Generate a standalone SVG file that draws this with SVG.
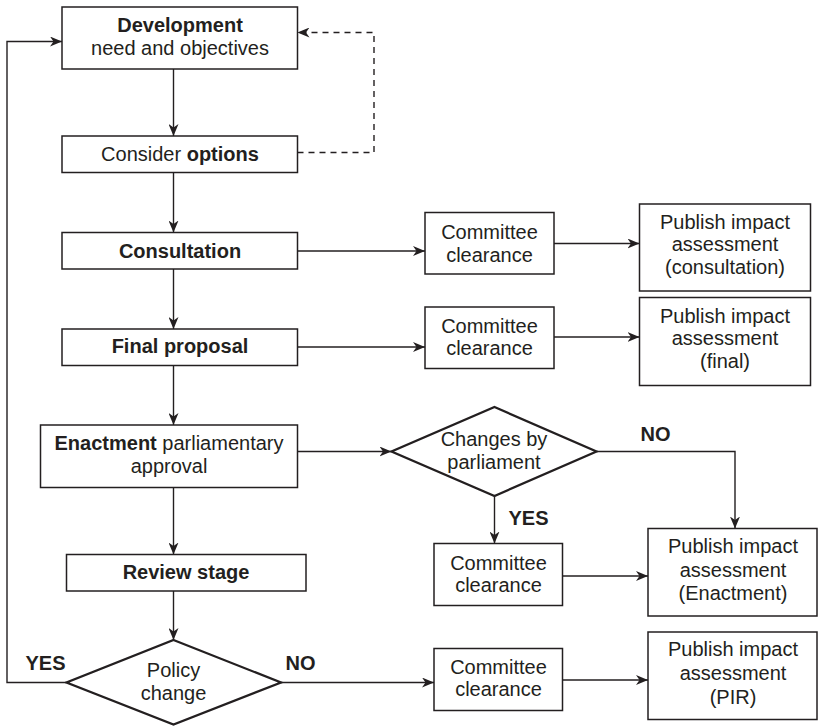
<svg xmlns="http://www.w3.org/2000/svg" width="818" height="726" viewBox="0 0 818 726">
  <defs>
    <marker id="arrow" markerUnits="userSpaceOnUse" markerWidth="12" markerHeight="10" viewBox="0 0 12 10" refX="12" refY="5" orient="auto">
      <path d="M0,0 L12,5 L0,10 L3.5,5 Z" fill="#231f20"/>
    </marker>
    <style>
      .box { fill: #ffffff; stroke: #231f20; stroke-width: 1.5; }
      .dia { fill: #ffffff; stroke: #231f20; stroke-width: 2.3; stroke-linejoin: miter; }
      .ln { fill: none; stroke: #231f20; stroke-width: 1.4; }
      .ar { marker-end: url(#arrow); }
      .dash { stroke-dasharray: 6 5; }
      text { font-family: "Liberation Sans", Arial, Helvetica, sans-serif; font-size: 20px; fill: #231f20; text-anchor: middle; }
      .b { font-weight: bold; }
    </style>
  </defs>

  <!-- connectors -->
  <g id="connectors">
    <!-- main spine -->
    <line class="ln ar" x1="173.5" y1="69" x2="173.5" y2="136"/>
    <line class="ln ar" x1="173.5" y1="172.5" x2="173.5" y2="232.5"/>
    <line class="ln ar" x1="173.5" y1="269" x2="173.5" y2="329"/>
    <line class="ln ar" x1="173.5" y1="365.5" x2="173.5" y2="425"/>
    <line class="ln ar" x1="173.5" y1="487.5" x2="173.5" y2="554.5"/>
    <line class="ln ar" x1="173.5" y1="591" x2="173.5" y2="640"/>
    <!-- options loop back to development -->
    <polyline class="ln ar dash" points="297.5,152.5 374,152.5 374,32.5 297.5,32.5"/>
    <!-- YES: policy change returns to development -->
    <polyline class="ln ar" points="66.5,682.5 7,682.5 7,41.5 62,41.5"/>
    <!-- consultation branch -->
    <line class="ln ar" x1="297.5" y1="251" x2="425" y2="251"/>
    <line class="ln ar" x1="554" y1="243.5" x2="639.5" y2="243.5"/>
    <!-- final proposal branch -->
    <line class="ln ar" x1="297.5" y1="347" x2="425" y2="347"/>
    <line class="ln ar" x1="554" y1="337" x2="639.5" y2="337"/>
    <!-- enactment branch -->
    <line class="ln ar" x1="297.5" y1="451.5" x2="391.5" y2="451.5"/>
    <polyline class="ln ar" points="596.5,451.5 735,451.5 735,528.5"/>
    <line class="ln ar" x1="494.5" y1="496" x2="494.5" y2="543.5"/>
    <line class="ln ar" x1="562.5" y1="576" x2="648" y2="576"/>
    <!-- NO: policy change -->
    <line class="ln ar" x1="281" y1="682.5" x2="434" y2="682.5"/>
    <line class="ln ar" x1="562.5" y1="680" x2="648" y2="680"/>
  </g>

  <!-- connector labels -->
  <g id="labels">
    <text class="b" x="45.5" y="670">YES</text>
    <text class="b" x="300.5" y="670">NO</text>
    <text class="b" x="655.5" y="441">NO</text>
    <text class="b" x="528.5" y="525">YES</text>
  </g>

  <g id="development">
    <rect class="box" x="62" y="7" width="235.5" height="62"/>
    <text class="b" x="180" y="32">Development</text>
    <text x="180" y="54.5">need and objectives</text>
  </g>

  <g id="options">
    <rect class="box" x="62" y="136" width="235.5" height="36.5"/>
    <text x="180" y="161">Consider <tspan class="b">options</tspan></text>
  </g>

  <g id="consultation">
    <rect class="box" x="62" y="232.5" width="235.5" height="36.5"/>
    <text class="b" x="180" y="257.5">Consultation</text>
  </g>

  <g id="final-proposal">
    <rect class="box" x="62" y="329" width="235.5" height="36.5"/>
    <text class="b" x="180" y="353">Final proposal</text>
  </g>

  <g id="enactment">
    <rect class="box" x="40.5" y="425" width="257" height="62.5"/>
    <text x="169" y="450"><tspan class="b">Enactment</tspan> parliamentary</text>
    <text x="169" y="473">approval</text>
  </g>

  <g id="review">
    <rect class="box" x="66.5" y="554.5" width="239.5" height="36.5"/>
    <text class="b" x="186" y="578.5">Review stage</text>
  </g>

  <g id="policy-change">
    <polygon class="dia" points="173.5,640 281,682.5 173.5,724.5 66.5,682.5"/>
    <text x="173.5" y="677">Policy</text>
    <text x="173.5" y="700">change</text>
  </g>

  <g id="changes-by-parliament">
    <polygon class="dia" points="494.5,407 596.5,451.5 494.5,496 391.5,451.5"/>
    <text x="494" y="446">Changes by</text>
    <text x="494" y="468.5">parliament</text>
  </g>

  <g id="clearance-consultation">
    <rect class="box" x="425" y="212.5" width="129" height="61.5"/>
    <text x="489.5" y="239">Committee</text>
    <text x="489.5" y="261.5">clearance</text>
  </g>

  <g id="publish-consultation">
    <rect class="box" x="639.5" y="204" width="171" height="87"/>
    <text x="725" y="228.5">Publish impact</text>
    <text x="725" y="251">assessment</text>
    <text x="725" y="273.5">(consultation)</text>
  </g>

  <g id="clearance-final">
    <rect class="box" x="425" y="307" width="129" height="61.5"/>
    <text x="489.5" y="332.5">Committee</text>
    <text x="489.5" y="355">clearance</text>
  </g>

  <g id="publish-final">
    <rect class="box" x="639.5" y="297.5" width="171" height="88"/>
    <text x="725" y="322.5">Publish impact</text>
    <text x="725" y="345">assessment</text>
    <text x="725" y="368">(final)</text>
  </g>

  <g id="clearance-enactment">
    <rect class="box" x="434" y="543.5" width="128.5" height="62"/>
    <text x="498.5" y="569.5">Committee</text>
    <text x="498.5" y="591.5">clearance</text>
  </g>

  <g id="publish-enactment">
    <rect class="box" x="648" y="528.5" width="169" height="87.5"/>
    <text x="733" y="553">Publish impact</text>
    <text x="733" y="576.5">assessment</text>
    <text x="733" y="600">(Enactment)</text>
  </g>

  <g id="clearance-pir">
    <rect class="box" x="434" y="648.5" width="128.5" height="62"/>
    <text x="498.5" y="673.5">Committee</text>
    <text x="498.5" y="696">clearance</text>
  </g>

  <g id="publish-pir">
    <rect class="box" x="648" y="632" width="169" height="87.5"/>
    <text x="733" y="656">Publish impact</text>
    <text x="733" y="680">assessment</text>
    <text x="733" y="703.5">(PIR)</text>
  </g>
</svg>
